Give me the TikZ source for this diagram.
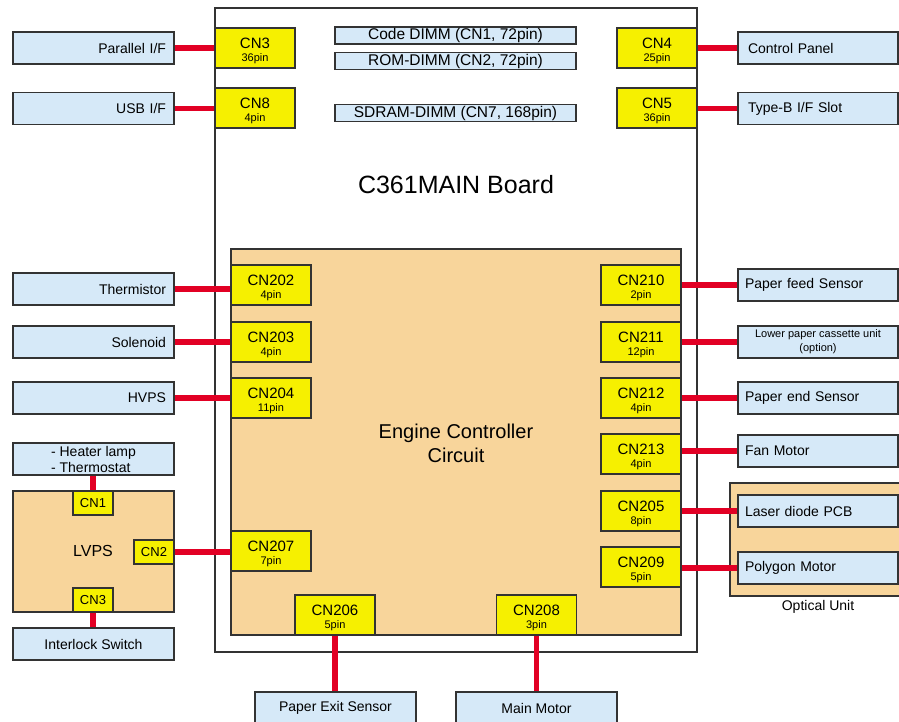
\documentclass[tikz,border=0pt]{standalone}
\usepackage{fontspec}
\setmainfont{Liberation Sans}
\definecolor{bfill}{RGB}{214,233,248}
\definecolor{yfill}{RGB}{246,240,0}
\definecolor{ofill}{RGB}{248,213,155}
\definecolor{wire}{RGB}{226,0,36}
\definecolor{edge}{RGB}{51,51,51}
\newcommand\cnl[2]{{\fontsize{15}{15}\selectfont\rule{0pt}{15.3pt}#1}\\{#2}}
\begin{document}
\begin{tikzpicture}[x=1pt,y=-1pt,
  bbase/.style={draw=edge, line width=1.3pt, fill=bfill, inner sep=0pt, minimum height=32pt, minimum width=161pt, font=\fontsize{14}{16}\selectfont},
  lbx/.style={bbase, text width=145pt, inner xsep=8pt, align=right},
  rbx/.style={bbase, text width=146pt, inner xsep=7pt, minimum width=160pt, align=left},
  cbx/.style={bbase, align=center},
  dimm/.style={draw=edge, line width=1.3pt, fill=bfill, inner sep=0pt, minimum height=17pt, minimum width=241pt, font=\fontsize{15.5}{17}\selectfont},
  cn/.style={draw=edge, line width=1.3pt, fill=yfill, minimum width=80pt, minimum height=40pt, inner sep=0pt, align=center, font=\fontsize{11}{13}\selectfont},
  scn/.style={draw=edge, line width=1.3pt, fill=yfill, minimum width=40pt, minimum height=24pt, inner sep=0pt, font=\fontsize{13}{15}\selectfont},
  board/.style={draw=edge, line width=1.3pt, inner sep=0pt},
  wirel/.style={draw=wire, line width=5.5pt},
]
\useasboundingbox (0,0) rectangle (899,722);
\fill[white] (0,0) rectangle (899,722);

% containers
\node[board, minimum width=482pt, minimum height=644pt] (main) at (456,330) {};
\node[font=\fontsize{25}{29}\selectfont] (title) at (456,185) {C361MAIN Board};
\node[board, fill=ofill, minimum width=450pt, minimum height=386pt] (eng) at (456,442) {};
\node[align=center, font=\fontsize{20}{24}\selectfont] (engt) at (456,443) {Engine Controller\\Circuit};
\node[board, fill=ofill, minimum width=176pt, minimum height=113pt] (opt) at (818,539.5) {};
\node[font=\fontsize{14}{16}\selectfont] (optt) at (818,607) {Optical Unit};
\node[board, fill=ofill, minimum width=161pt, minimum height=121pt] (lvps) at (93.5,551.5) {};
\node[font=\fontsize{16}{18}\selectfont] (lvpst) at (93,551) {LVPS};

% DIMMs
\node[dimm] (dimm1) at (455.5,35.5) {Code DIMM (CN1, 72pin)};
\node[dimm] (dimm2) at (455.5,61) {ROM-DIMM (CN2, 72pin)};
\node[dimm] (dimm7) at (455.5,113) {SDRAM-DIMM (CN7, 168pin)};

% connectors on main board
\node[cn] (cn3) at (255,48) {\cnl{CN3}{36pin}};
\node[cn] (cn8) at (255,108) {\cnl{CN8}{4pin}};
\node[cn] (cn4) at (657,48) {\cnl{CN4}{25pin}};
\node[cn] (cn5) at (657,108) {\cnl{CN5}{36pin}};
\node[cn] (cn202) at (271,285) {\cnl{CN202}{4pin}};
\node[cn] (cn203) at (271,342) {\cnl{CN203}{4pin}};
\node[cn] (cn204) at (271,398) {\cnl{CN204}{11pin}};
\node[cn] (cn207) at (271,551) {\cnl{CN207}{7pin}};
\node[cn] (cn210) at (641,285) {\cnl{CN210}{2pin}};
\node[cn] (cn211) at (641,342) {\cnl{CN211}{12pin}};
\node[cn] (cn212) at (641,398) {\cnl{CN212}{4pin}};
\node[cn] (cn213) at (641,454) {\cnl{CN213}{4pin}};
\node[cn] (cn205) at (641,511) {\cnl{CN205}{8pin}};
\node[cn] (cn209) at (641,567) {\cnl{CN209}{5pin}};
\node[cn] (cn206) at (335,615) {\cnl{CN206}{5pin}};
\node[cn] (cn208) at (536.5,615) {\cnl{CN208}{3pin}};

% LVPS connectors
\node[scn] (lcn1) at (93,503) {CN1};
\node[scn] (lcn2) at (154,552) {CN2};
\node[scn] (lcn3) at (93,600) {CN3};

% external boxes left
\node[lbx] (par) at (93.5,48) {Parallel I/F};
\node[lbx] (usb) at (93.5,108.5) {USB I/F};
\node[lbx] (therm) at (93.5,289) {Thermistor};
\node[lbx] (sol) at (93.5,342) {Solenoid};
\node[lbx] (hvps) at (93.5,398) {HVPS};
\node[bbase, align=left] (heat) at (93.5,459) {- Heater lamp\\- Thermostat};
\node[cbx] (inter) at (93.5,644) {Interlock Switch};

% external boxes right
\node[rbx, inner xsep=10pt, text width=140pt] (ctrl) at (818,48) {Control Panel};
\node[rbx, inner xsep=10pt, text width=140pt] (typeb) at (818,108.5) {Type-B I/F Slot};
\node[rbx] (pfeed) at (818,285) {Paper feed Sensor};
\node[bbase, minimum width=160pt, align=center, font=\fontsize{11}{14}\selectfont] (lower) at (818,342) {Lower paper cassette unit\\(option)};
\node[rbx] (pend) at (818,398) {Paper end Sensor};
\node[rbx] (fan) at (818,451) {Fan Motor};
\node[rbx] (laser) at (818,511) {Laser diode PCB};
\node[rbx] (poly) at (818,568) {Polygon Motor};

% external boxes bottom
\node[cbx] (pexit) at (335.5,708) {Paper Exit Sensor};
\node[cbx] (mmotor) at (536.5,708) {Main Motor};

% wires
\draw[wirel] (par.east) -- (par.east -| cn3.west);
\draw[wirel] (usb.east) -- (usb.east -| cn8.west);
\draw[wirel] (ctrl.west) -- (ctrl.west -| cn4.east);
\draw[wirel] (typeb.west) -- (typeb.west -| cn5.east);
\draw[wirel] (therm.east) -- (therm.east -| cn202.west);
\draw[wirel] (sol.east) -- (sol.east -| cn203.west);
\draw[wirel] (hvps.east) -- (hvps.east -| cn204.west);
\draw[wirel] (lcn2.east) -- (lcn2.east -| cn207.west);
\draw[wirel] (lcn1.north) -- (lcn1.north |- heat.south);
\draw[wirel] (lcn3.south) -- (lcn3.south |- inter.north);
\draw[wirel] (pfeed.west) -- (pfeed.west -| cn210.east);
\draw[wirel] (lower.west) -- (lower.west -| cn211.east);
\draw[wirel] (pend.west) -- (pend.west -| cn212.east);
\draw[wirel] (fan.west) -- (fan.west -| cn213.east);
\draw[wirel] (laser.west) -- (laser.west -| cn205.east);
\draw[wirel] (poly.west) -- (poly.west -| cn209.east);
\draw[wirel] (cn206.south) -- (cn206.south |- pexit.north);
\draw[wirel] (cn208.south) -- (cn208.south |- mmotor.north);
\end{tikzpicture}
\end{document}
